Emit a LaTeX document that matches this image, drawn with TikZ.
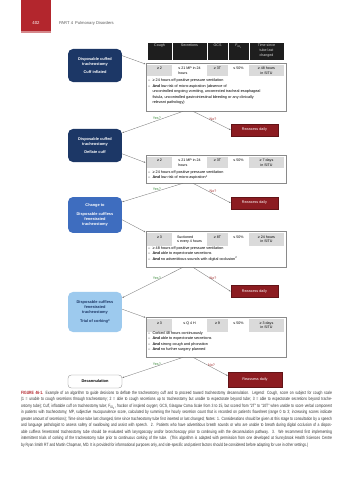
\documentclass[tikz,border=0pt]{standalone}
\usepackage{fontspec}
\setmainfont{Liberation Sans}
\newfontfamily\capfont[FakeStretch=0.74]{Liberation Sans}
\usepackage{tikz}
\usetikzlibrary{arrows.meta,positioning,calc}
\definecolor{navy}{HTML}{1C3766}
\definecolor{midblue}{HTML}{3E6DBF}
\definecolor{paleblue}{HTML}{9DCAEE}
\definecolor{darkred}{HTML}{8C1C21}
\definecolor{tabred}{HTML}{B3262D}
\definecolor{cellgray}{HTML}{DADADA}
\definecolor{framegray}{HTML}{8A8A8A}
\definecolor{linkgray}{HTML}{7A7A7A}
\definecolor{yesgreen}{HTML}{3C8C3C}
\definecolor{nored}{HTML}{A32A2A}
\definecolor{headblack}{HTML}{1E1E1E}
\newcommand{\bul}{\makebox[2.7mm][l]{--}}
\newcommand{\bulgap}{\hspace*{2.7mm}}
\tikzset{
  stagebox/.style={rectangle, rounded corners=3mm, align=center, minimum width=33mm, inner sep=2pt, font=\bfseries\fontsize{6.8}{8.8}\selectfont},
  critbox/.style={rectangle, draw=framegray, line width=1.1pt, fill=white, minimum width=85.7mm},
  headcell/.style={rectangle, fill=headblack, draw=white, line width=0.5pt, text=white!85!black, anchor=north, align=center, minimum height=11mm, text height=6.5pt, text depth=21pt, inner sep=1.5pt, font=\fontsize{6.3}{8.4}\selectfont},
  graycell/.style={rectangle, fill=cellgray, anchor=north, align=center, text height=7pt, text depth=11pt, inner sep=1.2pt, font=\fontsize{6.3}{8.4}\selectfont},
  whitecell/.style={graycell, fill=white, align=left},
  twoline/.style={text height=15.4pt, text depth=2.6pt},
  threeline/.style={text height=23.3pt, text depth=4.2pt},
  bullets/.style={anchor=north west, align=left, inner sep=0pt, font=\fontsize{6.6}{9.6}\selectfont},
  reassess/.style={rectangle, fill=darkred, draw=darkred!70!black, text=white, minimum width=28.8mm, minimum height=7.3mm, inner sep=1pt, font=\fontsize{6.5}{8}\selectfont},
  link/.style={draw=linkgray, line width=0.6pt},
  arrow/.style={link, -{Latex[length=3.2pt,width=2.6pt]}},
  yeslabel/.style={text=yesgreen, inner sep=1pt, font=\fontsize{6.3}{7}\selectfont},
  nolabel/.style={text=nored, inner sep=1pt, font=\fontsize{6.3}{7}\selectfont}
}

\begin{document}
\begin{tikzpicture}[x=0.612mm, y=-0.612mm]
  \fill[white] (0,0) rectangle (353,480);
  \useasboundingbox (0,0) rectangle (353,480);

  \fill[tabred] (21,0) rectangle (51,31);
  \fill[tabred!55] (21,31) rectangle (51,33.5);
  \node[text=white, font=\fontsize{7.5}{9}\selectfont] (pagenum) at (36,23.5) {402};
  \node[anchor=west, text=black!65, font=\fontsize{7.2}{9}\selectfont] (runhead) at (57,23.5) {PART 4\enspace Pulmonary Disorders};

  \node[headcell, minimum width=15.3mm] (hcough) at (159.5,42) {Cough};
  \node[headcell, minimum width=21.4mm] (hsecr) at (189.5,42) {Secretions};
  \node[headcell, minimum width=12.85mm] (hgcs) at (217.5,42) {GCS};
  \node[headcell, minimum width=12.85mm] (hfio) at (238.5,42) {F\textsubscript{IO\textsubscript{2}}};
  \node[headcell, threeline, minimum width=21.4mm] (htime) at (266.5,42) {Time since\\tube last\\changed};

  \node[stagebox, fill=navy, text=white, minimum height=20.2mm] (inflated) at (95,65.5) {Disposable cuffed\\tracheostomy\\[6pt]Cuff inflated};
  \node[critbox, minimum height=29.4mm] (crit1) at (216,87) {};
  \node[graycell, minimum width=15.3mm] (cough1) at (159.5,64.5) {≥ 2};
  \node[whitecell, twoline, minimum width=21.4mm] (secr1) at (189.5,64.5) {≤ 21 MP in 24\\hours};
  \node[graycell, minimum width=12.85mm] (gcs1) at (217.5,64.5) {≥ 3T};
  \node[whitecell, minimum width=12.85mm] (fio1) at (238.5,64.5) {≤ 50\%};
  \node[graycell, twoline, minimum width=21.4mm] (time1) at (266.5,64.5) {≥ 48 hours\\in SITU};
  \node[bullets] (notes1) at (148,79) {\bul ≥ 24 hours off positive pressure ventilation\\
    \bul\textbf{And} low risk of micro-aspiration (absence of\\
    \bulgap uncontrolled ongoing vomiting, uncorrected tracheal-esophageal\\
    \bulgap fistula, uncontrolled gastrointestinal bleeding or any clinically\\
    \bulgap relevant pathology)};

  \node[stagebox, fill=navy, text=white, minimum height=20.2mm] (deflate) at (95,145.5) {Disposable cuffed\\tracheostomy\\[6pt]Deflate cuff};
  \node[critbox, minimum height=17.1mm] (crit2) at (216,169) {};
  \node[graycell, minimum width=15.3mm] (cough2) at (159.5,156.5) {≥ 2};
  \node[whitecell, twoline, minimum width=21.4mm] (secr2) at (189.5,156.5) {≤ 21 MP in 24\\hours};
  \node[graycell, minimum width=12.85mm] (gcs2) at (217.5,156.5) {≥ 3T};
  \node[whitecell, minimum width=12.85mm] (fio2) at (238.5,156.5) {≤ 50\%};
  \node[graycell, twoline, minimum width=21.4mm] (time2) at (266.5,156.5) {≥ 7 days\\in SITU};
  \node[bullets] (notes2) at (148,170.5) {\bul ≥ 24 hours off positive pressure ventilation\\
    \bul\textbf{And} low risk of micro-aspiration\textsuperscript{1}};

  \node[stagebox, fill=midblue, text=white, minimum height=22mm] (cuffless) at (95,215) {Change to\\[6pt]Disposable cuffless\\fenestrated\\tracheostomy};
  \node[critbox, minimum height=22mm] (crit3) at (216,249) {};
  \node[graycell, minimum width=15.3mm, minimum height=8mm] (cough3) at (159.5,232.5) {≥ 3};
  \node[whitecell, twoline, minimum width=21.4mm, minimum height=8mm] (secr3) at (189.5,232.5) {Suctioned\\≤ every 4 hours};
  \node[graycell, minimum width=12.85mm, minimum height=8mm] (gcs3) at (217.5,232.5) {≥ 8T};
  \node[whitecell, minimum width=12.85mm, minimum height=8mm] (fio3) at (238.5,232.5) {≤ 50\%};
  \node[graycell, twoline, minimum width=21.4mm, minimum height=8mm] (time3) at (266.5,232.5) {≥ 24 hours\\in SITU};
  \node[bullets] (notes3) at (148,246.5) {\bul ≥ 48 hours off positive pressure ventilation\\
    \bul\textbf{And} able to expectorate secretions\\
    \bul\textbf{And} no adventitious sounds with digital occlusion\textsuperscript{2}};

  \node[stagebox, fill=paleblue, text=navy, minimum height=24.5mm] (corking) at (95,312) {Disposable cuffless\\fenestrated\\tracheostomy\\[8pt]Trial of corking\textsuperscript{3}};
  \node[critbox, minimum height=24.5mm] (crit4) at (216,337) {};
  \node[graycell, minimum width=15.3mm, minimum height=8.2mm] (cough4) at (159.5,318.5) {≥ 3};
  \node[whitecell, minimum width=21.4mm, minimum height=8.2mm] (secr4) at (189.5,318.5) {≤ Q 4 H};
  \node[graycell, minimum width=12.85mm, minimum height=8.2mm] (gcs4) at (217.5,318.5) {≥ 9};
  \node[whitecell, minimum width=12.85mm, minimum height=8.2mm] (fio4) at (238.5,318.5) {≤ 50\%};
  \node[graycell, twoline, minimum width=21.4mm, minimum height=8.2mm] (time4) at (266.5,318.5) {≥ 3 days\\in SITU};
  \node[bullets] (notes4) at (148,331.5) {\bul Corked 48 hours continuously\\
    \bul\textbf{And} able to expectorate secretions\\
    \bul\textbf{And} strong cough and phonation\\
    \bul\textbf{And} no further surgery planned};

  \node[stagebox, rounded corners=2mm, fill=white, draw=framegray, line width=0.6pt, text=black, minimum height=8mm] (decann) at (95,381.5) {Decannulation};

  \node[reassess] (reassess1) at (254.5,130) {Reassess daily};
  \node[reassess] (reassess2) at (254.5,203) {Reassess daily};
  \node[reassess] (reassess3) at (254.5,291.5) {Reassess daily};
  \node[reassess, minimum width=33mm, minimum height=9.2mm] (reassess4) at (255,379.5) {Reassess daily};

  \draw[arrow] (inflated.20) -- ($(crit1.north west)+(0,1.5)$);
  \draw[arrow] (deflate.-17) -- ($(crit2.north west)+(0,8)$);
  \draw[arrow] (cuffless.-10) -- ($(crit3.north west)+(0,1.5)$);
  \draw[arrow] (corking.6) -- ($(crit4.north west)+(0,1)$);

  \draw[arrow] ($(crit1.south)+(-33,0)$) -- node[yeslabel, pos=0.43, above] (yes1) {Yes?} ($(deflate.north east)+(0,4)$);
  \draw[arrow] ($(crit1.south)+(-23,0)$) -- node[nolabel, pos=0.53, above] (no1) {No?} (reassess1.west);
  \draw[arrow] ($(crit2.south)+(-33,0)$) -- node[yeslabel, pos=0.43, above] (yes2) {Yes?} ($(cuffless.north east)+(0,5)$);
  \draw[arrow] ($(crit2.south)+(-23,0)$) -- node[nolabel, pos=0.53, above] (no2) {No?} (reassess2.west);
  \draw[arrow] ($(crit3.south)+(-33,0)$) -- node[yeslabel, pos=0.43, above] (yes3) {Yes?} ($(corking.north east)+(0,6)$);
  \draw[arrow] ($(crit3.south)+(-23,0)$) -- node[nolabel, pos=0.53, above] (no3) {No?} (reassess3.west);
  \draw[arrow] ($(crit4.south)+(-33,0)$) -- node[yeslabel, pos=0.43, above] (yes4) {Yes?} ($(decann.north east)+(0,3)$);
  \draw[arrow] ($(crit4.south)+(-23,0)$) -- node[nolabel, pos=0.53, above] (no4) {No?} ($(reassess4.north west)+(0,4)$);

  \node[anchor=north west, text width=190.3mm, align=justify, inner sep=0pt, text=black!80, font=\capfont\fontsize{8}{11.3}\selectfont] (caption) at (21,391) {{\bfseries\color{tabred}FIGURE 46-1.}\enspace Example of an algorithm to guide decisions to deflate the tracheostomy cuff and to proceed toward tracheostomy decannulation. Legend: Cough, score on subject for cough scale\linebreak
  (1 = unable to cough secretions through tracheostomy; 2 = able to cough secretions up to tracheostomy but unable to expectorate beyond tube; 3 = able to expectorate secretions beyond trache-\linebreak
  ostomy tube); Cuff, inflatable cuff on tracheostomy tube; F\textsubscript{IO\textsubscript{2}}, fraction of inspired oxygen; GCS, Glasgow Coma Scale from 3 to 15, but scored from “2T” to “10T” when unable to score verbal component\linebreak
  in patients with tracheostomy; MP, subjective mucopurulence score, calculated by summing the hourly secretion count that is recorded on patient’s flowsheet (range 0 to 3; increasing scores indicate\linebreak
  greater amount of secretions); Time since tube last changed, time since tracheostomy tube first inserted or last changed; Notes: 1. Considerations should be given at this stage to consultation by a speech\linebreak
  and language pathologist to assess safety of swallowing and assist with speech. 2. Patients who have adventitious breath sounds or who are unable to breath during digital occlusion of a dispos-\linebreak
  able cuffless fenestrated tracheostomy tube should be evaluated with laryngoscopy and/or bronchoscopy prior to continuing with the decannulation pathway. 3. We recommend first implementing\linebreak
  intermittent trials of corking of the tracheostomy tube prior to continuous corking of the tube. (This algorithm is adapted with permission from one developed at Sunnybrook Health Sciences Centre\linebreak
  by Ryan Smith RT and Martin Chapman, MD. It is provided for informational purposes only, and site-specific and patient factors should be considered before adapting for use in other settings.)};
\end{tikzpicture}
\end{document}
